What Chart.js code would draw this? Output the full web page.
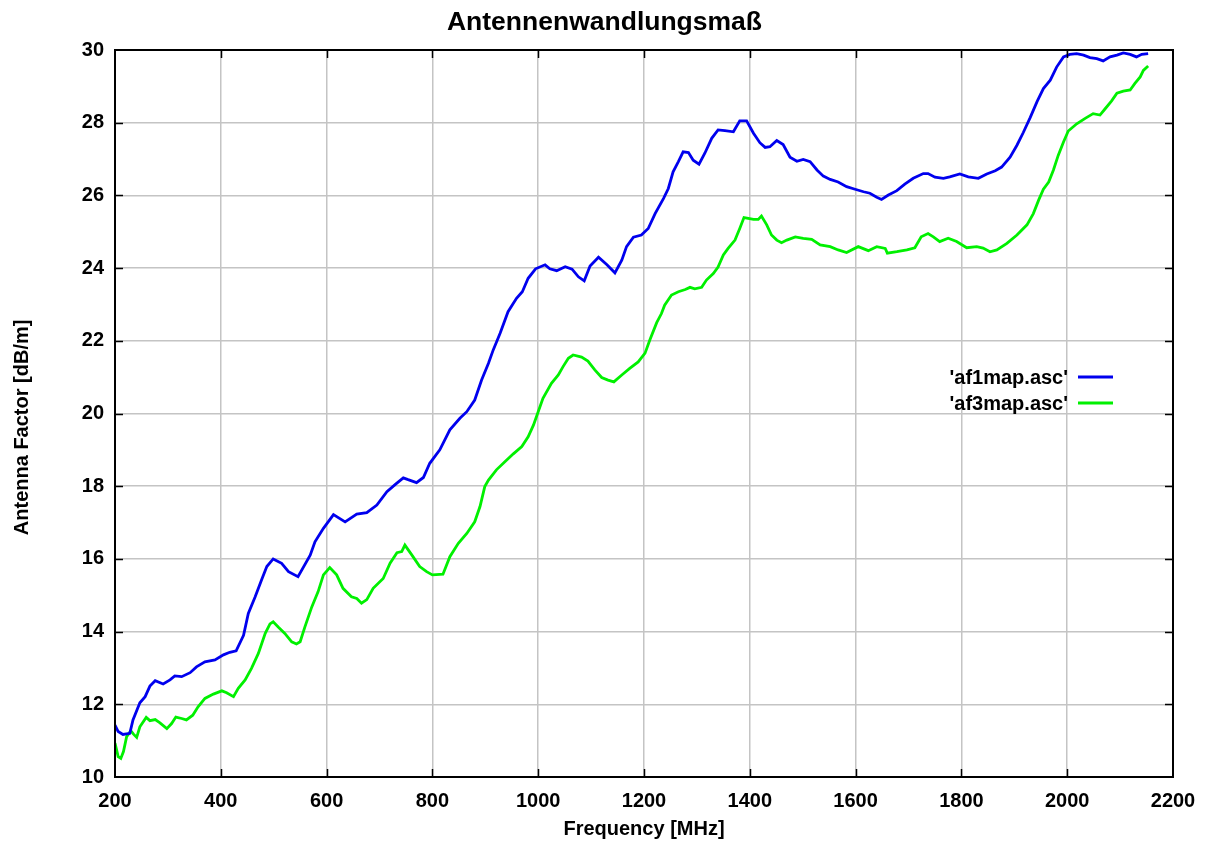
<!DOCTYPE html>
<html>
<head>
<meta charset="utf-8">
<script src="https://cdn.jsdelivr.net/npm/chart.js@4/dist/chart.umd.min.js"></script>
<style>
html,body{margin:0;padding:0;background:#fff;}
#wrap{width:1209px;height:841px;}
</style>
</head>
<body>
<div id="wrap"><canvas id="c" width="1209" height="841"></canvas></div>
<script>
const chartTitle = 'Antennenwandlungsmaß';
const xTitle = 'Frequency [MHz]';
const yTitle = 'Antenna Factor [dB/m]     ';
const seriesNames = ["'af1map.asc'", "'af3map.asc'"];

const af1Freq = [200,206,215,228,234,247,257,266,276,291,304,313,326,342,354,370,389,405,417,429,443,452,465,477,487,499,515,528,546,569,578,594,613,635,657,676,695,714,730,745,754,770,783,795,814,833,852,865,880,893,906,915,928,943,959,970,981,995,1013,1022,1035,1051,1064,1076,1087,1098,1114,1130,1145,1158,1167,1180,1195,1208,1221,1237,1246,1255,1265,1274,1284,1293,1304,1315,1328,1340,1353,1369,1381,1394,1407,1419,1429,1438,1451,1463,1476,1489,1501,1514,1527,1539,1552,1567,1583,1599,1615,1627,1640,1649,1662,1678,1693,1709,1728,1737,1750,1766,1778,1797,1813,1832,1848,1864,1876,1892,1905,1917,1930,1943,1955,1968,1980,1993,2005,2018,2031,2043,2056,2068,2081,2094,2106,2119,2131,2141,2153];
const af1Vals = [11.43,11.25,11.17,11.2,11.57,12.04,12.21,12.5,12.65,12.56,12.67,12.78,12.76,12.87,13.03,13.17,13.22,13.36,13.43,13.47,13.9,14.5,14.96,15.42,15.79,16.0,15.88,15.65,15.51,16.1,16.47,16.84,17.22,17.02,17.23,17.27,17.48,17.85,18.05,18.23,18.18,18.1,18.24,18.63,19.0,19.55,19.87,20.05,20.37,20.92,21.38,21.75,22.21,22.8,23.17,23.35,23.72,23.98,24.09,23.98,23.93,24.04,23.97,23.76,23.65,24.06,24.3,24.09,23.87,24.22,24.59,24.85,24.91,25.09,25.5,25.92,26.19,26.65,26.93,27.2,27.18,26.97,26.86,27.16,27.57,27.8,27.78,27.75,28.05,28.05,27.71,27.45,27.32,27.34,27.51,27.4,27.05,26.94,26.99,26.93,26.7,26.53,26.44,26.37,26.24,26.17,26.1,26.06,25.95,25.89,26.01,26.13,26.31,26.47,26.6,26.6,26.5,26.47,26.51,26.59,26.51,26.47,26.59,26.68,26.78,27.05,27.38,27.73,28.14,28.58,28.94,29.17,29.53,29.81,29.88,29.9,29.86,29.79,29.76,29.7,29.81,29.86,29.92,29.88,29.81,29.88,29.9];

const af3Freq = [200,206,211,216,222,230,235,241,247,259,266,276,285,298,307,315,326,335,347,357,370,386,402,411,424,433,446,458,471,484,493,499,509,521,534,543,550,559,572,584,594,606,619,631,647,657,666,676,688,707,720,733,742,748,761,776,789,800,820,833,849,865,880,890,899,906,921,937,953,969,981,991,1000,1009,1025,1038,1047,1057,1066,1082,1094,1107,1120,1132,1143,1158,1173,1189,1202,1211,1224,1233,1239,1252,1265,1278,1287,1296,1309,1318,1331,1340,1350,1359,1372,1381,1389,1397,1407,1416,1422,1432,1441,1451,1460,1470,1486,1501,1517,1533,1552,1567,1583,1605,1624,1640,1656,1660,1678,1697,1712,1724,1737,1747,1759,1775,1791,1810,1829,1841,1854,1867,1886,1905,1924,1936,1946,1955,1965,1974,1983,1993,2002,2018,2034,2049,2062,2071,2084,2094,2106,2119,2128,2138,2144,2153];
const af3Vals = [10.93,10.56,10.51,10.7,11.11,11.27,11.18,11.09,11.38,11.64,11.55,11.58,11.49,11.33,11.47,11.65,11.61,11.57,11.7,11.93,12.16,12.28,12.37,12.32,12.21,12.44,12.67,12.99,13.4,13.95,14.21,14.27,14.12,13.95,13.72,13.66,13.72,14.13,14.68,15.1,15.56,15.76,15.56,15.19,14.96,14.91,14.78,14.88,15.19,15.46,15.88,16.17,16.2,16.38,16.11,15.79,15.65,15.56,15.58,16.06,16.43,16.7,17.02,17.44,17.99,18.17,18.45,18.67,18.89,19.09,19.36,19.68,20.05,20.42,20.83,21.06,21.29,21.52,21.61,21.55,21.44,21.2,20.99,20.92,20.87,21.06,21.24,21.42,21.66,22.02,22.5,22.75,22.98,23.26,23.35,23.41,23.47,23.43,23.47,23.67,23.85,24.03,24.36,24.54,24.77,25.09,25.39,25.37,25.34,25.34,25.43,25.19,24.91,24.77,24.7,24.77,24.86,24.82,24.79,24.64,24.59,24.5,24.43,24.59,24.48,24.59,24.54,24.41,24.45,24.5,24.56,24.86,24.95,24.86,24.73,24.82,24.73,24.56,24.59,24.55,24.45,24.5,24.68,24.91,25.19,25.5,25.87,26.17,26.37,26.7,27.1,27.47,27.77,27.97,28.12,28.25,28.21,28.37,28.6,28.81,28.87,28.9,29.08,29.26,29.44,29.56];

const xTicks = [200,400,600,800,1000,1200,1400,1600,1800,2000,2200];
const yTicks = [10,12,14,16,18,20,22,24,26,28,30];

const FONT = "'Liberation Sans', Arial, Helvetica, sans-serif";
const BLUE = '#0000ee';
const GREEN = '#00f000';

function toPoints(xs, ys){ return xs.map((x,i)=>({x:x, y:ys[i]})); }

const frame = {
  id: 'frame',
  afterDraw(chart){
    const {ctx, chartArea:a, scales:{x, y}} = chart;
    ctx.save();
    ctx.strokeStyle = '#000';
    ctx.lineWidth = 1.5;
    const tl = 8;
    ctx.beginPath();
    xTicks.forEach(v=>{
      const px = Math.round(x.getPixelForValue(v)) + 0.5;
      if (px > a.left + 2 && px < a.right - 2) {
        ctx.moveTo(px, a.bottom); ctx.lineTo(px, a.bottom - tl);
        ctx.moveTo(px, a.top); ctx.lineTo(px, a.top + tl);
      }
    });
    yTicks.forEach(v=>{
      const py = Math.round(y.getPixelForValue(v)) + 0.5;
      if (py > a.top + 2 && py < a.bottom - 2) {
        ctx.moveTo(a.left, py); ctx.lineTo(a.left + tl, py);
        ctx.moveTo(a.right, py); ctx.lineTo(a.right - tl, py);
      }
    });
    ctx.stroke();
    ctx.lineWidth = 2;
    ctx.strokeRect(a.left, a.top, a.right - a.left, a.bottom - a.top);

    // legend
    ctx.font = 'bold 20px ' + FONT;
    ctx.textAlign = 'right';
    ctx.textBaseline = 'middle';
    const rows = [377, 403];
    chart.data.datasets.forEach((ds, i)=>{
      const yy = rows[i];
      ctx.fillStyle = '#000';
      ctx.fillText(ds.label, 1068, yy + 1);
      ctx.strokeStyle = ds.borderColor;
      ctx.lineWidth = 3;
      ctx.beginPath();
      ctx.moveTo(1078, yy); ctx.lineTo(1113, yy);
      ctx.stroke();
    });
    ctx.restore();
  }
};

const fmt = v => String(v);

new Chart(document.getElementById('c'), {
  type: 'line',
  data: {
    datasets: [
      { label: seriesNames[0], data: toPoints(af1Freq, af1Vals), borderColor: BLUE, backgroundColor: BLUE, borderWidth: 2.8, pointRadius: 0, tension: 0, fill: false },
      { label: seriesNames[1], data: toPoints(af3Freq, af3Vals), borderColor: GREEN, backgroundColor: GREEN, borderWidth: 2.8, pointRadius: 0, tension: 0, fill: false }
    ]
  },
  options: {
    responsive: false,
    animation: false,
    events: [],
    layout: { padding: 0 },
    plugins: {
      legend: { display: false },
      tooltip: { enabled: false },
      title: {
        display: true,
        text: chartTitle,
        color: '#000',
        font: { family: FONT, size: 26.5, weight: 'bold', lineHeight: 1.2 },
        padding: { top: 7, bottom: 11.2 }
      }
    },
    scales: {
      x: {
        type: 'linear',
        min: 200, max: 2200,
        afterBuildTicks(s){ s.ticks = xTicks.map(v=>({value:v})); },
        afterFit(s){ s.height = 64; },
        border: { display: false },
        grid: { color: '#c4c4c4', lineWidth: 1.5, drawTicks: false },
        ticks: { color: '#000', padding: 12, maxRotation: 0, autoSkip: false, callback: fmt, font: { family: FONT, size: 20, weight: 'bold' } },
        title: { display: true, text: xTitle, color: '#000', padding: { top: 0, bottom: 0 }, font: { family: FONT, size: 20, weight: 'bold', lineHeight: 1.2 } }
      },
      y: {
        type: 'linear',
        min: 10, max: 30,
        afterBuildTicks(s){ s.ticks = yTicks.map(v=>({value:v})); },
        afterFit(s){ s.width = 115; },
        border: { display: false },
        grid: { color: '#c4c4c4', lineWidth: 1.5, drawTicks: false },
        ticks: { color: '#000', padding: 11, autoSkip: false, callback: fmt, font: { family: FONT, size: 20, weight: 'bold' } },
        title: { display: true, text: yTitle, color: '#000', padding: { top: 10, bottom: 0 }, font: { family: FONT, size: 20, weight: 'bold', lineHeight: 1.2 } }
      },
      yRightSpacer: {
        type: 'linear',
        position: 'right',
        min: 10, max: 30,
        display: true,
        afterFit(s){ s.width = 36; },
        border: { display: false },
        grid: { display: false, drawTicks: false },
        ticks: { display: false },
        title: { display: false }
      }
    }
  },
  plugins: [frame]
});
</script>
</body>
</html>
